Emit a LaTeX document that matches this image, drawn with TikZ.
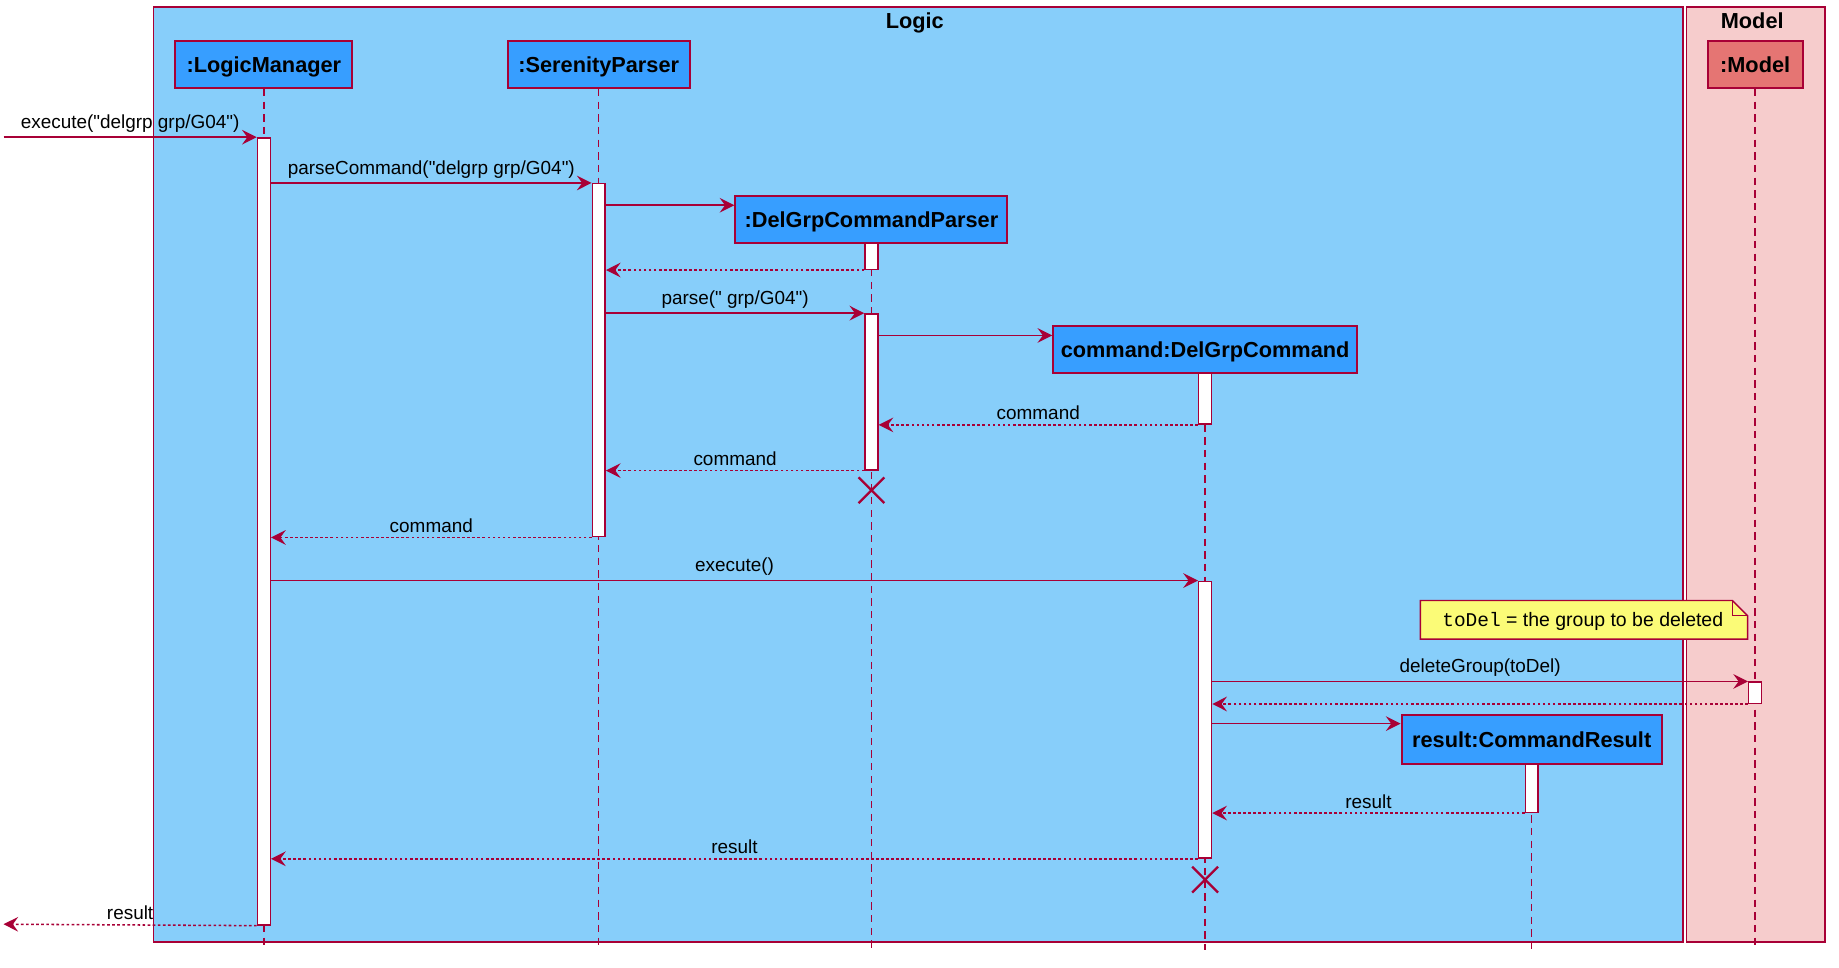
\documentclass[tikz,border=0pt]{standalone}
\usepackage{fontspec}
\setmainfont{Liberation Sans}[Ligatures=TeXOff]
\setmonofont{Liberation Mono}
\usetikzlibrary{arrows.meta}
\definecolor{bd}{HTML}{A80036}
\definecolor{logicbg}{HTML}{87CEFA}
\definecolor{modelbg}{HTML}{F6CCCC}
\definecolor{partbg}{HTML}{379EFF}
\definecolor{modpart}{HTML}{E57573}
\definecolor{notebg}{HTML}{FBFB77}
\begin{document}
\begin{tikzpicture}[x=0.8796pt,y=-0.8796pt,
  part/.style={draw=bd, line width=1.5pt, fill=partbg, font=\bfseries\fontsize{16.3}{18}\selectfont, minimum height=40*0.8796pt, inner sep=0pt, text depth=0pt, text height=11.7pt},
  act/.style={draw=bd, line width=1.1pt, fill=white, minimum width=11*0.8796pt, inner sep=0pt, anchor=north},
  life/.style={draw=bd, line width=1.1pt, dash pattern=on 5.5pt off 4pt},
  msg/.style={draw=bd, line width=1.15pt, -{Stealth[length=11pt,width=11pt,inset=4pt]}},
  ret/.style={msg, dash pattern=on 2pt off 1.8pt},
  lbl/.style={font=\fontsize{14.2}{16}\selectfont, anchor=south, inner sep=0pt, yshift=3pt},
  frm/.style={draw=bd, line width=1.1pt},
  ftitle/.style={font=\bfseries\fontsize{16.3}{18}\selectfont, inner sep=0pt, text depth=0pt, text height=11.7pt},
  kill/.style={draw=bd, line width=1.7pt}
]
\useasboundingbox (0,0) rectangle (1568,825);
% frames
\draw[frm, fill=logicbg] (131,6) rectangle (1435,803);
\draw[frm, fill=modelbg] (1438,6) rectangle (1556,803);
\node[ftitle] (tLogic) at (780,18) {Logic};
\node[ftitle] (tModel) at (1494,18) {Model};
% participants
\node[part, minimum width=151*0.8796pt] (lm) at (225,55) {:LogicManager};
\node[part, minimum width=155*0.8796pt] (sp) at (510.5,55) {:SerenityParser};
\node[part, minimum width=81*0.8796pt, fill=modpart] (mod) at (1496.5,55) {:Model};
\node[part, minimum width=232*0.8796pt] (dp) at (743,187) {:DelGrpCommandParser};
\node[part, minimum width=259*0.8796pt] (cmd) at (1027.5,298) {command:DelGrpCommand};
\node[part, minimum width=222*0.8796pt, minimum height=41*0.8796pt] (res) at (1306,630.5) {result:CommandResult};
% lifelines
\coordinate (lmEnd) at (225,810);
\coordinate (spEnd) at (510.5,810);
\coordinate (modEnd) at (1496.5,810);
\coordinate (dpEnd) at (743,810);
\coordinate (cmdEnd) at (1027.5,810);
\coordinate (resEnd) at (1306,810);
\draw[life] (lm.south) -- (lmEnd);
\draw[life] (sp.south) -- (spEnd);
\draw[life] (mod.south) -- (modEnd);
\draw[life] (dp.south) -- (dpEnd);
\draw[life] (cmd.south) -- (cmdEnd);
\draw[life] (res.south) -- (resEnd);
% activations
\node[act, minimum height=671*0.8796pt] (aLM) at (225,117) {};
\node[act, minimum height=301*0.8796pt] (aSP) at (510.5,156) {};
\node[act, minimum height=22*0.8796pt] (aDP1) at (743,207) {};
\node[act, minimum height=133*0.8796pt] (aDP2) at (743,267) {};
\node[act, minimum height=43*0.8796pt] (aC1) at (1027.5,318) {};
\node[act, minimum height=236*0.8796pt] (aC2) at (1027.5,495) {};
\node[act, minimum height=18*0.8796pt] (aMod) at (1496.5,581) {};
\node[act, minimum height=41*0.8796pt] (aRes) at (1306,651) {};
% outside ends
\coordinate (inStart) at (3,117);
\coordinate (outEnd) at (3,788);
% messages
\draw[msg] (inStart) -- node[lbl]{execute("delgrp grp/G04")} (aLM.north west);
\draw[msg] (aLM.east |- 0,156) -- node[lbl]{parseCommand("delgrp grp/G04")} (aSP.north west);
\draw[msg] (aSP.east |- 0,175) -- (dp.west |- 0,175);
\draw[ret] (aDP1.south west) -- (aSP.east |- aDP1.south);
\draw[msg] (aSP.east |- 0,267) -- node[lbl]{parse(" grp/G04")} (aDP2.north west);
\draw[msg] (aDP2.east |- 0,286) -- (cmd.west |- 0,286);
\draw[ret] (aC1.south west) -- node[lbl]{command} (aDP2.east |- aC1.south);
\draw[ret] (aDP2.south west) -- node[lbl]{command} (aSP.east |- aDP2.south);
\draw[ret] (aSP.south west) -- node[lbl]{command} (aLM.east |- aSP.south);
\draw[msg] (aLM.east |- 0,495) -- node[lbl]{execute()} (aC2.north west);
\draw[msg] (aC2.east |- 0,581) -- node[lbl]{deleteGroup(toDel)} (aMod.north west);
\draw[ret] (aMod.south west) -- (aC2.east |- aMod.south);
\draw[msg] (aC2.east |- 0,617) -- (res.west |- 0,617);
\draw[ret] (aRes.south west) -- node[lbl]{result} (aC2.east |- aRes.south);
\draw[ret] (aC2.south west) -- node[lbl]{result} (aLM.east |- aC2.south);
\draw[ret] (aLM.south west) -- node[lbl]{result} (outEnd);
% destroy marks
\coordinate (x1) at (743,418);
\coordinate (x2) at (1027.5,750);
\draw[kill] ([shift={(-11,-11)}]x1) -- ([shift={(11,11)}]x1) ([shift={(-11,11)}]x1) -- ([shift={(11,-11)}]x1);
\draw[kill] ([shift={(-11,-11)}]x2) -- ([shift={(11,11)}]x2) ([shift={(-11,11)}]x2) -- ([shift={(11,-11)}]x2);
% note
\draw[draw=bd, line width=1.1pt, fill=notebg] (1211,512) -- (1477,512) -- (1490,525) -- (1490,545) -- (1211,545) -- cycle;
\draw[draw=bd, line width=1.1pt] (1477,512) -- (1477,525) -- (1490,525);
\node[font=\fontsize{14.6}{16}\selectfont, inner sep=0pt] (note) at (1349.5,530) {\texttt{toDel} = the group to be deleted};
\end{tikzpicture}
\end{document}
